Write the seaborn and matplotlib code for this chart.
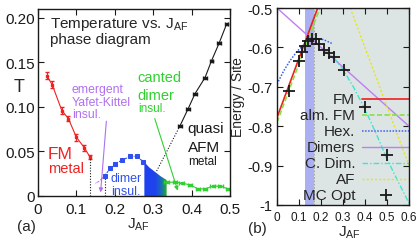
import matplotlib
matplotlib.use('Agg')
import matplotlib.pyplot as plt
from matplotlib.colors import LinearSegmentedColormap
import numpy as np
import seaborn as sns

# ---- panel (a): temperature vs J_AF ----
fm_J = [0.023, 0.037, 0.062, 0.079, 0.100, 0.121, 0.135]
fm_T = [0.135, 0.125, 0.096, 0.087, 0.066, 0.054, 0.044]
fm_err = [0.004, 0.004, 0.004, 0.003, 0.004, 0.003, 0.002]

yk_J = [0.148, 0.161, 0.174]
yk_T = [0.0135, 0.017, 0.023]

dim_J = [0.174, 0.188, 0.200, 0.218, 0.240, 0.257, 0.274]
dim_T = [0.023, 0.031, 0.036, 0.040, 0.0445, 0.0445, 0.0386]

# crossover band (blue -> green)
band_J = [0.277, 0.290, 0.305, 0.320, 0.335]
band_T = [0.038, 0.032, 0.027, 0.022, 0.018]

cdim_J = [0.335, 0.357, 0.374, 0.396, 0.417, 0.435, 0.455, 0.475, 0.495]
cdim_T = [0.0155, 0.0155, 0.0145, 0.0125, 0.008, 0.008, 0.011, 0.011, 0.008]

afm_J = [0.370, 0.391, 0.409, 0.435, 0.452, 0.472, 0.491]
afm_T = [0.079, 0.098, 0.115, 0.133, 0.152, 0.172, 0.193]
link_J = [0.309, 0.370]
link_T = [0.028, 0.079]

# ---- panel (b): energy per site ----
fmE_J = [0.0, 0.185]
fmE = [-0.778, -0.5]
almE_J = [0.0, 0.195]
almE = [-0.79, -0.5]
hex_J = [0.0, 0.03, 0.06, 0.09, 0.12, 0.15, 0.18, 0.21, 0.25]
hex_E = [-0.693, -0.660, -0.633, -0.611, -0.594, -0.584, -0.579, -0.580, -0.590]
dimE_J = [0.0, 0.6]
dimE = [-0.5, -0.8]
cdE_J = [0.22, 0.26, 0.30, 0.35, 0.40, 0.45, 0.50, 0.55, 0.60]
cdE = [-0.608, -0.627, -0.656, -0.703, -0.757, -0.818, -0.883, -0.940, -0.995]
afE_J = [0.333, 0.6]
afE = [-0.5, -0.9]
mc_J = [0.053, 0.099, 0.114, 0.129, 0.141, 0.159, 0.177, 0.190, 0.212, 0.235, 0.258, 0.303, 0.401, 0.500]
mc_E = [-0.710, -0.634, -0.611, -0.596, -0.583, -0.579, -0.579, -0.591, -0.606, -0.613, -0.625, -0.657, -0.752, -0.873]

xt_a = [0, 0.1, 0.2, 0.3, 0.4, 0.5]
xl_a = ['0', '0.1', '0.2', '0.3', '0.4', '0.5']
yt_a = [0, 0.05, 0.10, 0.15, 0.20]
yl_a = ['0', '0.05', '0.10', '0.15', '0.20']
xt_b = [0, 0.1, 0.2, 0.3, 0.4, 0.5, 0.6]
xl_b = ['0', '0.1', '0.2', '0.3', '0.4', '0.5', '0.6']
yt_b = [-1, -0.9, -0.8, -0.7, -0.6, -0.5]
yl_b = ['-1', '-0.9', '-0.8', '-0.7', '-0.6', '-0.5']

sns.set_theme(style='ticks')
plt.rcParams['font.family'] = ['Liberation Sans', 'DejaVu Sans']
plt.rcParams['axes.unicode_minus'] = False
plt.rcParams['mathtext.fontset'] = 'custom'
plt.rcParams['mathtext.rm'] = 'Liberation Sans'

RED = '#ee2222'
VIO = '#b070f0'
BLU = '#3050f0'
GRN = '#30d030'

fig = plt.figure(figsize=(4.16, 2.51), dpi=100)
W, H = 416, 251
ax1 = fig.add_axes([38 / W, 1 - 197 / H, 192 / W, 187 / H])
ax2 = fig.add_axes([277 / W, 1 - 206 / H, 132 / W, 197 / H])

# ----- panel a -----
ax1.errorbar(fm_J, fm_T, yerr=fm_err, color=RED, lw=0.8, marker='s', ms=1.5,
             capsize=1.5, elinewidth=0.8)
ax1.vlines(fm_J[-1], 0, fm_T[-1], colors='k', linestyles=(0, (1, 1.5)), lw=0.8)
ax1.vlines(dim_J[0], 0, dim_T[0], colors='k', linestyles=(0, (1, 1.5)), lw=0.8)
sns.lineplot(x=yk_J, y=yk_T, ax=ax1, color=VIO, lw=0.8, marker='x', ms=3,
             mew=0.8, sort=False)
sns.lineplot(x=dim_J, y=dim_T, ax=ax1, color=BLU, lw=0.8, ls=(0, (2, 1)),
             marker='s', ms=2.8, mec=BLU, sort=False)

poly = ax1.fill_between(band_J, 0, band_T, color='none', lw=0)
cmap = LinearSegmentedColormap.from_list(
    'band', [(0, '#1e40f0'), (0.5, '#1e44ee'), (0.75, '#1a6cb8'), (1, '#26b026')])
grad = np.linspace(0, 1, 200).reshape(1, -1)
im = ax1.imshow(grad, cmap=cmap, aspect='auto', origin='lower',
                extent=[band_J[0], band_J[-1], 0, max(band_T)], zorder=1)
im.set_clip_path(poly.get_paths()[0], transform=ax1.transData)

ax1.errorbar(cdim_J, cdim_T, xerr=0.006, color=GRN, lw=0.8, marker='s', ms=1.5,
             capsize=1.5, elinewidth=0.8)
ax1.plot(link_J, link_T, color='k', lw=0.8, ls=(0, (1, 1.5)))
ax1.errorbar(afm_J, afm_T, xerr=0.005, color='k', lw=0.8, marker='s', ms=1.5,
             capsize=1.2, elinewidth=0.8)

ax1.annotate('', xy=(0.163, 0.004), xytext=(0.178, 0.084),
             arrowprops=dict(arrowstyle='-|>', color=VIO, lw=0.8, mutation_scale=6,
                             shrinkA=0, shrinkB=0))
ax1.annotate('', xy=(0.364, 0.006), xytext=(0.304, 0.087),
             arrowprops=dict(arrowstyle='-|>', color=GRN, lw=0.8, mutation_scale=6,
                             shrinkA=0, shrinkB=0))

ax1.text(0.031, 0.190, r'Temperature vs. J$_{\mathregular{AF}}$', fontsize=11)
ax1.text(0.031, 0.172, 'phase diagram', fontsize=11)
ax1.text(0.260, 0.1296, 'canted', color=GRN, fontsize=10.5)
ax1.text(0.260, 0.109, 'dimer', color=GRN, fontsize=10.5)
ax1.text(0.260, 0.0958, 'insul.', color=GRN, fontsize=8.5)
ax1.text(0.0885, 0.1165, 'emergent', color=VIO, fontsize=8.8)
ax1.text(0.0885, 0.102, 'Yafet-Kittel', color=VIO, fontsize=8.8)
ax1.text(0.0885, 0.0888, 'insul.', color=VIO, fontsize=8.8)
ax1.text(0.026, 0.0424, 'FM', color=RED, fontsize=12.5)
ax1.text(0.026, 0.0266, 'metal', color=RED, fontsize=10.5)
ax1.text(0.19, 0.0172, 'dimer', color=BLU, fontsize=9)
ax1.text(0.19, 0.0022, 'insul.', color=BLU, fontsize=9)
ax1.text(0.39, 0.072, 'quasi', color='k', fontsize=11)
ax1.text(0.39, 0.051, 'AFM', color='k', fontsize=11)
ax1.text(0.39, 0.036, 'metal', color='k', fontsize=8.5)

ax1.set_xlim(0, 0.5)
ax1.set_ylim(0, 0.21)
ax1.set_xticks(xt_a, xl_a)
ax1.set_yticks(yt_a, yl_a)
ax1.set_xlabel('')
ax1.set_ylabel('')

# ----- panel b -----
ax2.axvspan(0.128, 0.17, color='#aab0f2', lw=0, zorder=0)
ax2.axvspan(0.17, 0.6, color='#dce4e4', lw=0, zorder=0)
ax2.axvline(0.17, color='#9a9a9a', lw=0.6, ls=(0, (2, 2)), zorder=0.5)

styles = {
    'FM': dict(color='#ee2020', ls='-', lw=1.2),
    'alm. FM': dict(color='#88e040', ls=(0, (3, 1.5)), lw=1.2),
    'Hex.': dict(color='#3a5ef0', ls=(0, (1, 1)), lw=1.1),
    'Dimers': dict(color='#c07ef2', ls='-', lw=1.0),
    'C. Dim.': dict(color='#3ee6d0', ls=(0, (4, 1.5, 1, 1.5)), lw=1.0),
    'AF': dict(color='#e6e610', ls=(0, (1.5, 1.5)), lw=1.0),
}
curves = [('FM', fmE_J, fmE), ('alm. FM', almE_J, almE), ('Hex.', hex_J, hex_E),
          ('Dimers', dimE_J, dimE), ('C. Dim.', cdE_J, cdE), ('AF', afE_J, afE)]
for name, xs, ys in curves:
    sns.lineplot(x=xs, y=ys, ax=ax2, sort=False, **styles[name])
ax2.plot(mc_J, mc_E, ls='none', marker='+', ms=9, mew=1.3, color='k')

# gnuplot-style key, right aligned text with sample to the right
y0, dy = 0.538, 0.0812
for i, name in enumerate(['FM', 'alm. FM', 'Hex.', 'Dimers', 'C. Dim.', 'AF', 'MC Opt']):
    y = y0 - i * dy
    ax2.text(0.591, y, name, transform=ax2.transAxes, ha='right', va='center',
             fontsize=11)
    if name == 'MC Opt':
        ax2.plot([0.822], [y], transform=ax2.transAxes, ls='none', marker='+',
                 ms=9, mew=1.3, color='k')
    else:
        ax2.plot([0.644, 1.0], [y, y], transform=ax2.transAxes, clip_on=False,
                 **styles[name])

ax2.set_xlim(0, 0.6)
ax2.set_ylim(-1, -0.5)
ax2.set_xticks(xt_b, xl_b)
ax2.set_yticks(yt_b, yl_b)
ax2.set_xlabel('')
ax2.set_ylabel('')

for ax in (ax1, ax2):
    ax.tick_params(direction='in', top=True, right=True, length=4, width=0.8,
                   labelsize=11, colors='k')
    ax.tick_params(axis='x', pad=4)
    ax.tick_params(axis='y', pad=2.5)
    for s in ax.spines.values():
        s.set_linewidth(1.0)
        s.set_color('k')
ax2.tick_params(axis='x', labelsize=8.5, pad=4.5)
ax2.tick_params(axis='y', labelsize=10.5, pad=3)

fig.text(19 / W, 1 - 87 / H, 'T', ha='center', va='center', fontsize=13)
fig.text(127 / W, 1 - 228 / H, r'J$_{\mathregular{AF}}$', ha='left', va='baseline',
         fontsize=11)
fig.text(17 / W, 1 - 231 / H, '(a)', ha='left', va='baseline', fontsize=11)
fig.text(338 / W, 1 - 236 / H, r'J$_{\mathregular{AF}}$', ha='left', va='baseline',
         fontsize=11)
fig.text(248 / W, 1 - 233 / H, '(b)', ha='left', va='baseline', fontsize=11)
fig.text(238 / W, 1 - 97 / H, 'Energy / Site', ha='center', va='center',
         rotation=90, fontsize=10)

fig.savefig('out.png', dpi=100)
